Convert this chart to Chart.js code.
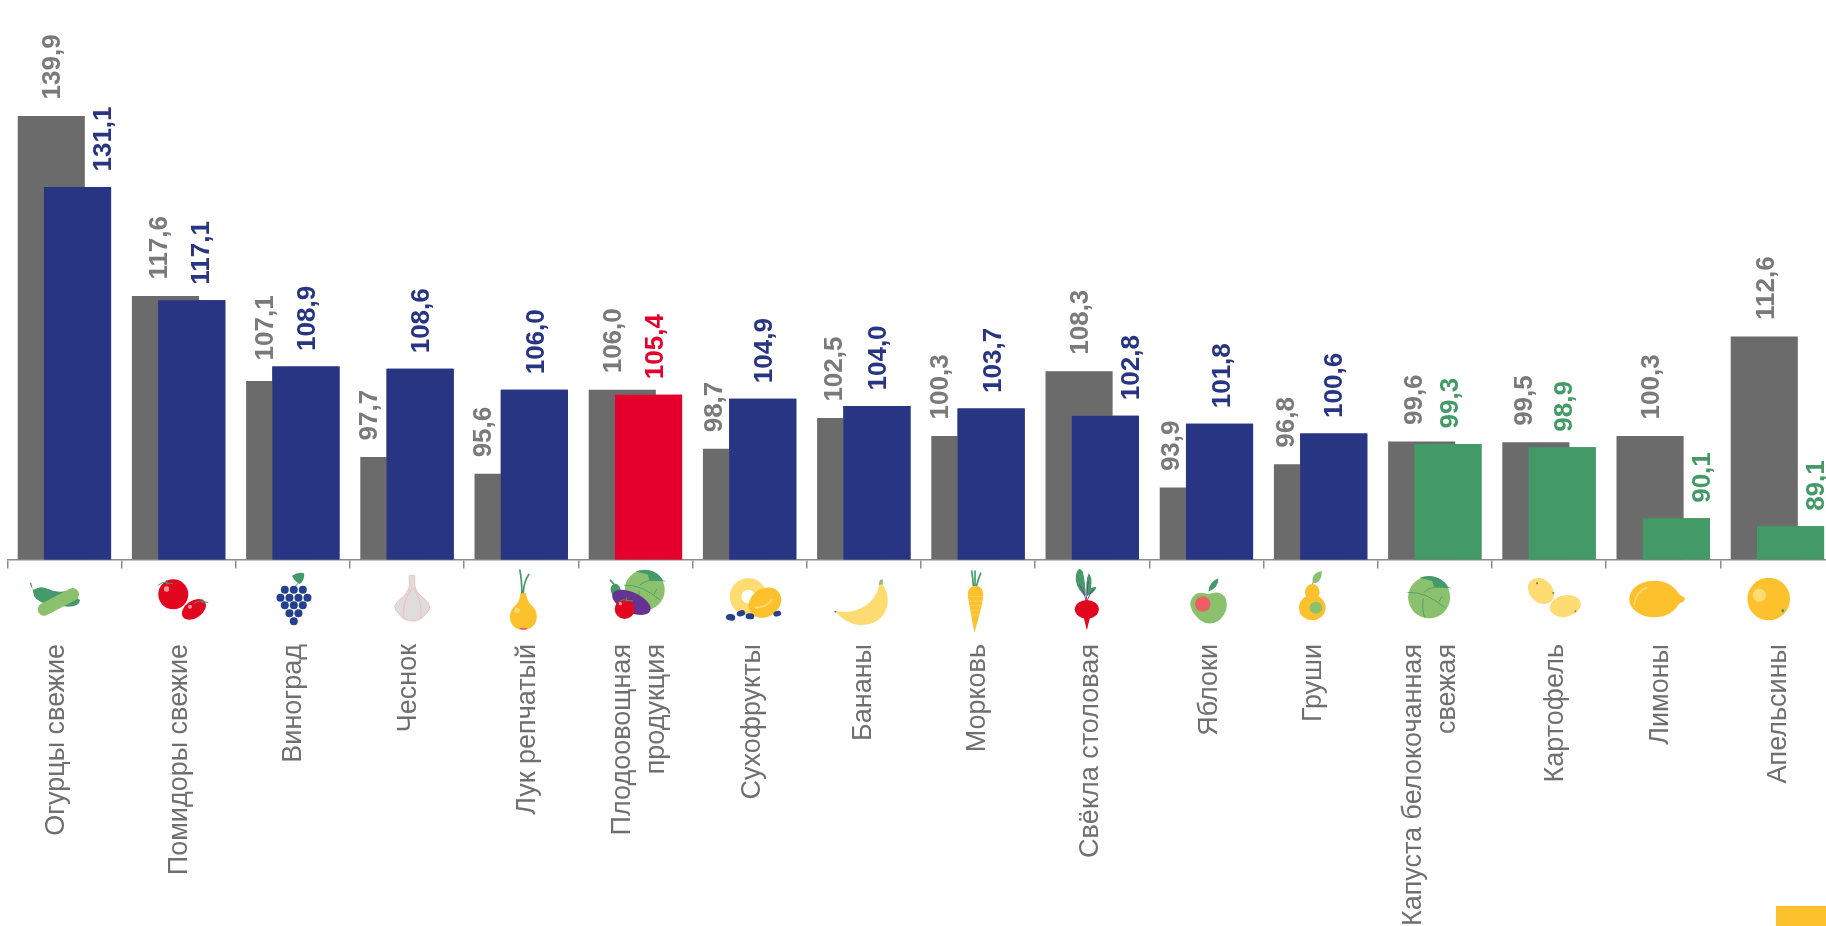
<!DOCTYPE html>
<html lang="ru">
<head>
<meta charset="utf-8">
<title>Плодоовощная продукция</title>
<script src="https://cdn.jsdelivr.net/npm/chart.js@4"></script>
<style>
  html, body { margin: 0; background: #fff; overflow: hidden; width: 1826px; height: 926px; }
  canvas { position: absolute; left: 0; top: 0; }
  #corner { position: absolute; left: 1776px; top: 906px; width: 50px; height: 20px; background: #fdc12d; }
</style>
</head>
<body>
<canvas id="chart" width="1840" height="926"></canvas>
<div id="corner"></div>
<script>
// Данные
const categories = [
  'Огурцы свежие', 'Помидоры свежие', 'Виноград', 'Чеснок', 'Лук репчатый',
  ['Плодоовощная', 'продукция'], 'Сухофрукты', 'Бананы', 'Морковь', 'Свёкла столовая',
  'Яблоки', 'Груши', ['Капуста белокочанная', 'свежая'], 'Картофель', 'Лимоны', 'Апельсины'
];
const previousValues = [139.9, 117.6, 107.1, 97.7, 95.6, 106.0, 98.7, 102.5, 100.3, 108.3, 93.9, 96.8, 99.6, 99.5, 100.3, 112.6];
const currentValues = [131.1, 117.1, 108.9, 108.6, 106.0, 105.4, 104.9, 104.0, 103.7, 102.8, 101.8, 100.6, 99.3, 98.9, 90.1, 89.1];

// Цвета и ручные сдвиги подписей (как в макете)
const GRAY = '#6b6b6b', GRAY_TEXT = '#7a7a7a', AXIS_TEXT = '#6f6f6f';
const BLUE = '#283583', RED = '#e4002b', GREEN = '#439a66';
const YELLOW = '#fdc12d', PALE = '#fedc72', LEAF = '#45996a', LIME = '#8bc16d', TOMATO = '#e3061f';
const barColors = currentValues.map((_, i) => i === 5 ? RED : i >= 12 ? GREEN : BLUE);
const grayNudge = [2, -6, -14, -24, -24, -8, -22, -16, -24, 2, -21, -21, -7, -11, 2, 3];
const blueNudge = [26, 10, 2, 2, 2, 7, 2, 2, 3, 26, 3, 1, 3, 3, 26, 26];
const labelNudge = [-8, 1, 1, 2, 6, 4, 3, 0, 0, -2, 3, -7, -4, 7, -3, 1];

// --- Иконки: координаты в пикселях увеличенной вырезки (3x) ---
function ell(c, x, y, rx, ry, col, rot) {
  c.fillStyle = col;
  c.beginPath();
  c.ellipse(x, y, rx, ry, (rot || 0) * Math.PI / 180, 0, Math.PI * 2);
  c.fill();
}
function path(c, d, col) {
  c.fillStyle = col;
  c.fill(new Path2D(d));
}
function line(c, d, col, w) {
  c.strokeStyle = col;
  c.lineWidth = w;
  c.lineCap = 'round';
  c.stroke(new Path2D(d));
}
function tomatoTop(c, x, y) {
  line(c, `M${x - 22} ${y + 8} Q${x - 8} ${y - 4} ${x + 2} ${y + 2} M${x + 2} ${y - 6} L${x + 4} ${y + 6} M${x + 2} ${y + 2} L${x + 20} ${y + 4}`, LEAF, 3);
}
function cabbage(c, x, y, r) {
  const k = r / 63;
  ell(c, x, y, r, r, LIME);
  path(c, `M${x - 30 * k} ${y - 58 * k} Q${x} ${y - 70 * k} ${x + 28 * k} ${y - 58 * k} Q${x + 52 * k} ${y - 45 * k} ${x + 58 * k} ${y - 28 * k} L${x + 15 * k} ${y - 30 * k} L${x + 10 * k} ${y - 48 * k} Q${x - 10 * k} ${y - 55 * k} ${x - 30 * k} ${y - 58 * k}Z`, LEAF);
  line(c, `M${x - 64 * k} ${y - 15 * k} Q${x - 10 * k} ${y - 18 * k} ${x + 46 * k} ${y + 30 * k} M${x - 15 * k} ${y - 16 * k} Q${x + 10 * k} ${y - 40 * k} ${x + 63 * k} ${y - 28 * k} M${x - 18 * k} ${y + 5 * k} Q${x - 22 * k} ${y + 35 * k} ${x - 14 * k} ${y + 58 * k} M${x + 38 * k} ${y - 2 * k} L${x + 30 * k} ${y + 12 * k}`, LEAF, 2.5 * k);
}

const icons = [
  [193, c => { // огурец и перец
    path(c, 'M90 54 Q92 70 102 74 Q120 60 145 72 Q170 85 200 78 L240 105 Q238 125 205 125 L140 118 Q100 105 100 85 Q98 72 94 54Z', LEAF);
    line(c, 'M132 133 L218 88', LIME, 38);
  }],
  [536, c => { // помидоры
    ell(c, 520, 88, 45, 45, TOMATO);
    ell(c, 582, 133, 40, 26, TOMATO, -35);
    ell(c, 500, 72, 8, 8, '#f59aa0');
    ell(c, 570, 125, 6, 6, '#f59aa0');
    tomatoTop(c, 498, 52);
    tomatoTop(c, 604, 108);
  }],
  [879, c => { // виноград
    path(c, 'M877 32 Q895 20 913 25 Q916 45 900 57 Q882 47 877 32Z', LEAF);
    line(c, 'M895 55 L884 66', LEAF, 3);
    [[855, 74], [882, 74], [909, 74], [842, 98], [869, 98], [896, 98], [923, 98],
     [855, 121], [882, 121], [909, 121], [869, 145], [896, 145], [882, 169]].forEach(g => ell(c, g[0], g[1], 12, 12, '#25408f'));
  }],
  [1221, c => { // чеснок
    const d = 'M1229 32 L1244 32 L1244 60 Q1248 85 1275 103 Q1300 125 1280 145 Q1262 168 1238 168 Q1212 168 1195 145 Q1172 125 1200 103 Q1226 85 1229 60Z';
    path(c, d, '#dedddc');
    line(c, d + ' M1236 70 Q1205 110 1212 160 M1240 70 Q1270 110 1262 160', '#f3bcbc', 3);
  }],
  [184, c => { // лук
    line(c, 'M186 85 Q186 45 180 15 M190 85 Q192 50 207 28', LEAF, 5);
    path(c, 'M181 85 L199 85 Q200 105 212 118 Q232 135 231 155 Q228 193 190 193 Q152 193 150 155 Q150 135 170 118 Q181 105 181 85Z', YELLOW);
    ell(c, 172, 136, 8, 8, PALE);
    ell(c, 190, 191, 12, 3, '#ed5e64');
  }],
  [527, c => { // овощной набор
    cabbage(c, 555, 75, 60);
    ell(c, 468, 76, 15, 20, LEAF, -15);
    line(c, 'M465 60 L452 46', LEAF, 5);
    ell(c, 515, 112, 62, 30, '#663392', 25);
    ell(c, 495, 132, 30, 30, TOMATO);
    ell(c, 482, 116, 5, 5, '#f59aa0');
    tomatoTop(c, 498, 104);
  }],
  [869, c => { // сухофрукты
    c.strokeStyle = PALE; c.lineWidth = 35;
    c.beginPath(); c.arc(865, 95, 38, 0, Math.PI * 2); c.stroke();
    ell(c, 915, 113, 52, 42, YELLOW, -35);
    line(c, 'M888 128 Q920 128 935 105', PALE, 5);
    ell(c, 812, 157, 14, 10, '#25408f', 10);
    ell(c, 843, 145, 13, 9, '#25408f', -15);
    ell(c, 870, 154, 13, 9, '#25408f', 5);
    ell(c, 952, 146, 12, 8, '#25408f', -15);
  }],
  [1212, c => { // банан
    path(c, 'M1125 138 Q1190 150 1230 112 Q1255 85 1258 60 L1268 58 Q1290 90 1282 125 Q1265 180 1200 180 Q1160 178 1125 138Z', PALE);
    path(c, 'M1257 60 L1260 45 L1269 43 L1269 58Z', LIME);
    ell(c, 1127, 140, 3, 3, '#666');
  }],
  [174, c => { // морковь
    line(c, 'M160 62 Q158 35 155 18 M165 62 L165 18 M170 62 Q175 40 182 25', LEAF, 5);
    path(c, 'M166 62 Q190 62 190 92 Q185 130 163 203 Q150 130 143 92 Q143 62 166 62Z', YELLOW);
    line(c, 'M150 94 L188 94 M150 108 L186 108 M153 122 L183 122 M155 136 L180 136 M158 150 L177 150', PALE, 2);
  }],
  [516, c => { // свёкла
    path(c, 'M490 90 Q462 60 467 30 Q475 0 488 20 Q495 50 497 92Z', LEAF);
    path(c, 'M500 92 Q495 50 505 25 Q518 35 512 70 Q530 62 528 70 Q515 90 502 92Z', LEAF);
    line(c, 'M498 108 Q495 85 478 60 M498 108 Q500 75 504 50 M500 108 Q506 90 520 72', '#663392', 2.5);
    ell(c, 500, 133, 36, 28, TOMATO);
    path(c, 'M490 155 L510 155 L500 196Z', TOMATO);
  }],
  [860, c => { // яблоко
    path(c, 'M866 80 Q868 50 896 40 Q896 70 866 80Z', LEAF);
    path(c, 'M867 88 Q900 72 918 100 Q930 135 900 165 Q870 186 840 165 Q808 135 812 110 Q825 72 867 88Z', LIME);
    ell(c, 849, 117, 23, 23, '#ed5e64');
  }],
  [1202, c => { // груша
    line(c, 'M1177 60 L1183 40', '#555', 2);
    path(c, 'M1178 42 Q1180 22 1206 18 Q1206 48 1186 55 Q1176 52 1178 42Z', LIME);
    ell(c, 1177, 82, 22, 25, YELLOW);
    ell(c, 1177, 128, 40, 38, YELLOW);
    ell(c, 1188, 128, 19, 18, LIME);
  }],
  [207, c => cabbage(c, 190, 97, 63)], // капуста
  [549, c => { // картофель
    ell(c, 525, 78, 44, 34, PALE, 45);
    ell(c, 598, 123, 47, 32, PALE, -12);
    [[513, 55], [562, 84], [628, 139]].forEach(g => ell(c, g[0], g[1], 3, 3, '#777'));
  }],
  [892, c => { // лимон
    ell(c, 865, 102, 75, 55, YELLOW);
    path(c, 'M930 75 Q942 92 955 97 Q960 104 952 110 Q940 112 930 128Z', YELLOW);
    line(c, 'M805 118 Q812 78 843 68', PALE, 5);
  }],
  [1235, c => { // апельсин
    ell(c, 1209, 102, 64, 64, YELLOW);
    ell(c, 1181, 91, 20, 20, PALE);
    ell(c, 1251, 137, 4, 5, LEAF);
  }]
];

// --- Плагин: подписи значений, подписи категорий, иконки ---
const chartDecor = {
  id: 'chartDecor',
  afterDatasetsDraw(chart) {
    const c = chart.ctx;
    const xScale = chart.scales.x;
    // Серый должен лежать слева, но под цветным столбцом
    chart.getDatasetMeta(1).controller.draw();

    c.save();
    c.textAlign = 'left';
    c.textBaseline = 'middle';
    c.font = 'bold 26px "Liberation Sans"';
    [[0, previousValues, grayNudge, () => GRAY_TEXT, 16.5], [1, currentValues, blueNudge, i => barColors[i], 15.5]].forEach(s => {
      chart.getDatasetMeta(s[0]).data.forEach((bar, i) => {
        // 107,1 в макете стоит чуть выше остальных
        const lift = s[0] === 0 && i === 2 ? 4 : 0;
        c.save();
        c.translate(bar.x + s[2][i], bar.y - s[4] - lift);
        c.rotate(-Math.PI / 2);
        c.fillStyle = s[3](i);
        c.fillText(s[1][i].toFixed(1).replace('.', ','), 0, 0);
        c.restore();
      });
    });

    c.font = '27px "Liberation Sans"';
    c.fillStyle = AXIS_TEXT;
    c.textAlign = 'right';
    categories.forEach((label, i) => {
      const lines = [].concat(label);
      const x = xScale.getPixelForTick(i) + labelNudge[i];
      lines.forEach((text, n) => {
        c.save();
        c.translate(x + (n - (lines.length - 1) / 2) * 34, 644);
        c.rotate(-Math.PI / 2);
        c.fillText(text, 0, 0);
        c.restore();
      });
    });
    c.restore();

    icons.forEach((icon, i) => {
      c.save();
      c.translate(xScale.getPixelForTick(i), 565);
      c.scale(1 / 3, 1 / 3);
      c.translate(-icon[0], 0);
      icon[1](c);
      c.restore();
    });
  }
};

new Chart(document.getElementById('chart'), {
  type: 'bar',
  data: {
    labels: categories,
    datasets: [
      { label: 'Серия 1', data: previousValues, backgroundColor: GRAY, base: 85 },
      { label: 'Серия 2', data: currentValues, backgroundColor: barColors, base: 85 }
    ]
  },
  options: {
    responsive: false,
    animation: false,
    categoryPercentage: 0.46,
    barPercentage: 2.555,
    layout: { padding: { left: 7.3, right: 5.5, top: 0, bottom: 0 } },
    scales: {
      x: {
        afterFit(scale) { scale.height = 926 - 559.5; },
        border: { color: '#8c8c8c', width: 1.5 },
        grid: { offset: true, drawOnChartArea: false, drawTicks: true, tickLength: 9, color: '#8c8c8c', lineWidth: 1.5 },
        ticks: { display: false }
      },
      y: { display: false, min: 85, max: 154.25 }
    },
    plugins: { legend: { display: false }, tooltip: { enabled: false } }
  },
  plugins: [chartDecor]
});
</script>
</body>
</html>
